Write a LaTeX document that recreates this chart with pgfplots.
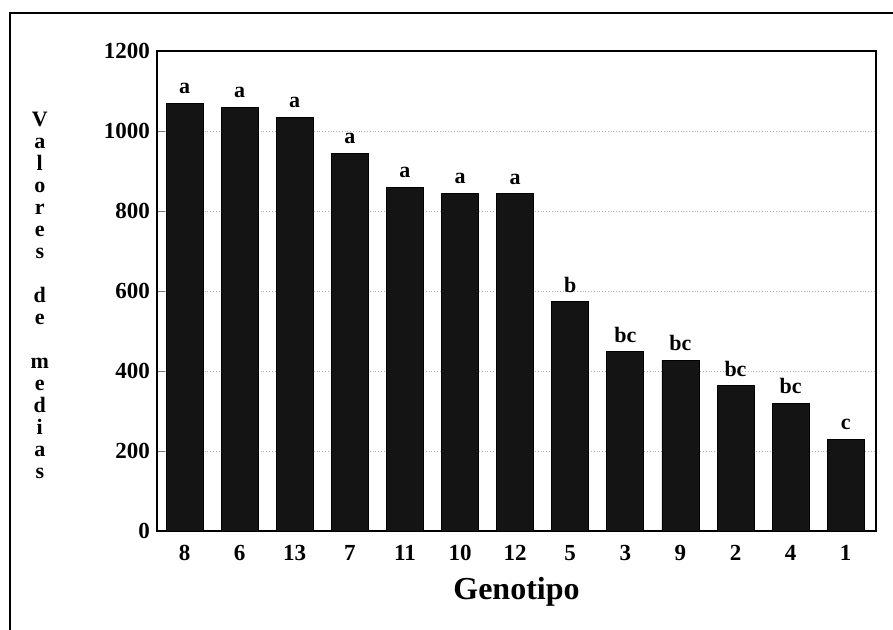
\documentclass[border=0pt]{standalone}
\usepackage{fontspec}
\setmainfont{Liberation Serif}
\usepackage{pgfplots}
\pgfplotsset{compat=1.18}

\begin{document}
\begin{tikzpicture}
% page = 893x629 px at 0.5pt per px
\useasboundingbox (0,0) rectangle (446.5pt,314.5pt);
\draw[line width=1.2pt] (5pt,-2pt) -- (5pt,308pt) -- (450pt,308pt);
\begin{axis}[
    at={(78.5pt,49pt)}, anchor=south west,
    scale only axis,
    width=359.5pt, height=240pt,
    ybar, bar width=18.5pt,
    xmin=-0.5, xmax=12.55,
    ymin=0, ymax=1200,
    ytick={0,200,...,1200},
    xtick=data,
    xticklabels={8,6,13,7,11,10,12,5,3,9,2,4,1},
    xtick style={draw=none},
    ytick pos=left, tick align=inside,
    major tick length=4pt,
    ymajorgrids, grid style={densely dotted, gray!60},
    axis line style={line width=0.9pt},
    /pgf/number format/assume math mode=true,
    /pgf/number format/1000 sep={},
    ticklabel style={font=\fontsize{11.5}{13}\selectfont\bfseries},
    xticklabel style={yshift=-3.5pt},
    xlabel={Genotipo},
    xlabel style={font=\fontsize{16}{18}\selectfont\bfseries, yshift=-1.5pt},
    ylabel={V\\a\\l\\o\\r\\e\\s\\[11pt]d\\e\\[11pt]m\\e\\d\\i\\a\\s},
    ylabel style={at={(axis description cs:-0.163,0.49)}, rotate=-90,
        anchor=center, align=center,
        font=\fontsize{11}{11}\selectfont\bfseries},
    point meta=explicit symbolic,
    nodes near coords,
    nodes near coords style={font=\fontsize{11}{12}\selectfont\bfseries, anchor=south, yshift=1pt},
    ]
\addplot[fill=black!92, draw=black] coordinates {
    (0,1070) [a]
    (1,1060) [a]
    (2,1035) [a]
    (3,945)  [a]
    (4,860)  [a]
    (5,845)  [a]
    (6,843)  [a]
    (7,573)  [b]
    (8,448)  [bc]
    (9,427)  [bc]
    (10,364) [bc]
    (11,320) [bc]
    (12,230) [c]
};
\end{axis}
\end{tikzpicture}
\end{document}
